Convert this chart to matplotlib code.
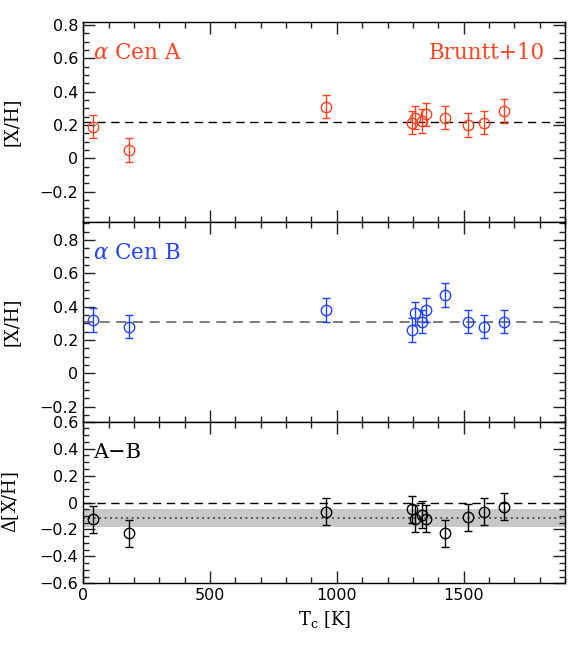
import numpy as np
import matplotlib
matplotlib.use('Agg')
import matplotlib.pyplot as plt
from matplotlib.ticker import MultipleLocator

# condensation temperatures (K)
tc = [40, 180, 957, 1296, 1309, 1334, 1352, 1428, 1517, 1582, 1658]

# alpha Cen A abundances
xh_a = [0.19, 0.05, 0.31, 0.215, 0.245, 0.225, 0.265, 0.245, 0.20, 0.215, 0.285]
err_a = [0.07] * 11
mean_a = 0.22

# alpha Cen B abundances
xh_b = [0.32, 0.28, 0.38, 0.26, 0.36, 0.31, 0.38, 0.47, 0.31, 0.28, 0.31]
err_b = [0.07] * 11
mean_b = 0.31

# A - B differences
diff = [-0.125, -0.23, -0.07, -0.05, -0.12, -0.09, -0.12, -0.23, -0.11, -0.07, -0.03]
err_d = [0.1] * 11
mean_d = -0.113
band_d = (-0.18, -0.05)

red = '#ff4422'
blue = '#2244ff'
serif = 'DejaVu Serif'
plt.rcParams['mathtext.fontset'] = 'dejavuserif'
plt.rcParams['font.family'] = 'DejaVu Sans'

fig = plt.figure(figsize=(5.68, 6.57), dpi=100)
L, W = 0.1467, 0.848
ax1 = fig.add_axes([L, 0.6626, W, 0.3044])
ax2 = fig.add_axes([L, 0.3581, W, 0.3045])
ax3 = fig.add_axes([L, 0.1122, W, 0.2459])


def style(ax, ymaj, ymin):
    ax.set_xlim(0, 1900)
    ax.xaxis.set_major_locator(MultipleLocator(500))
    ax.xaxis.set_minor_locator(MultipleLocator(100))
    ax.yaxis.set_major_locator(MultipleLocator(ymaj))
    ax.yaxis.set_minor_locator(MultipleLocator(ymin))
    ax.tick_params(which='both', direction='in', top=True, right=True,
                   labelsize=11.5, width=1.0, color='#222222')
    ax.tick_params(which='major', length=8.5)
    ax.tick_params(which='minor', length=4.3)
    for s in ax.spines.values():
        s.set_linewidth(1.0)
    ax.yaxis.set_major_formatter(plt.FuncFormatter(
        lambda v, p: '0' if abs(v) < 1e-9 else ('%.1f' % v).replace('-', '\u2212')))


ebkw = dict(fmt='o', ms=7.5, mfc='none', mew=1.0, capsize=3.0, elinewidth=1.0, capthick=1.0)

# top panel
ax1.axhline(mean_a, color='black', ls=(0, (6, 4)), lw=1.0)
ax1.errorbar(tc, xh_a, yerr=err_a, color=red, mec=red, **ebkw)
ax1.set_ylim(-0.38, 0.82)
style(ax1, 0.2, 0.05)
ax1.tick_params(labelbottom=False)
ax1.set_ylabel('[X/H]', family=serif, fontsize=13)
ax1.text(40, 0.63, r'$\alpha$ Cen A', color=red, family=serif, fontsize=15.5, va='center')
ax1.text(1820, 0.635, 'Bruntt+10', color=red, family=serif, fontsize=15.5, va='center', ha='right')

# middle panel
ax2.axhline(mean_b, color='#666666', ls=(0, (6, 4)), lw=1.2)
ax2.errorbar(tc, xh_b, yerr=err_b, color=blue, mec=blue, **ebkw)
ax2.set_ylim(-0.29, 0.91)
style(ax2, 0.2, 0.05)
ax2.tick_params(labelbottom=False)
ax2.set_ylabel('[X/H]', family=serif, fontsize=13)
ax2.text(40, 0.72, r'$\alpha$ Cen B', color=blue, family=serif, fontsize=15.5, va='center')

# bottom panel
ax3.axhspan(band_d[0], band_d[1], color='#c8c8c8', lw=0)
ax3.axhline(0, color='black', ls=(0, (6, 4)), lw=1.0)
ax3.axhline(mean_d, color='#444444', ls=(0, (1, 2)), lw=1.3)
ax3.errorbar(tc, diff, yerr=err_d, color='black', mec='black', **ebkw)
ax3.set_ylim(-0.6, 0.6)
style(ax3, 0.2, 0.05)
ax3.set_ylabel(r'$\Delta$[X/H]', family=serif, fontsize=13)
ax3.text(40, 0.37, 'A\u2212B', color='black', family=serif, fontsize=15, va='center')
ax3.set_xlabel(r'T$_{\rm c}$ [K]', family=serif, fontsize=13)

for ax in (ax1, ax2, ax3):
    ax.yaxis.set_label_coords(-0.13, 0.5)

fig.savefig('out.png', dpi=100)
